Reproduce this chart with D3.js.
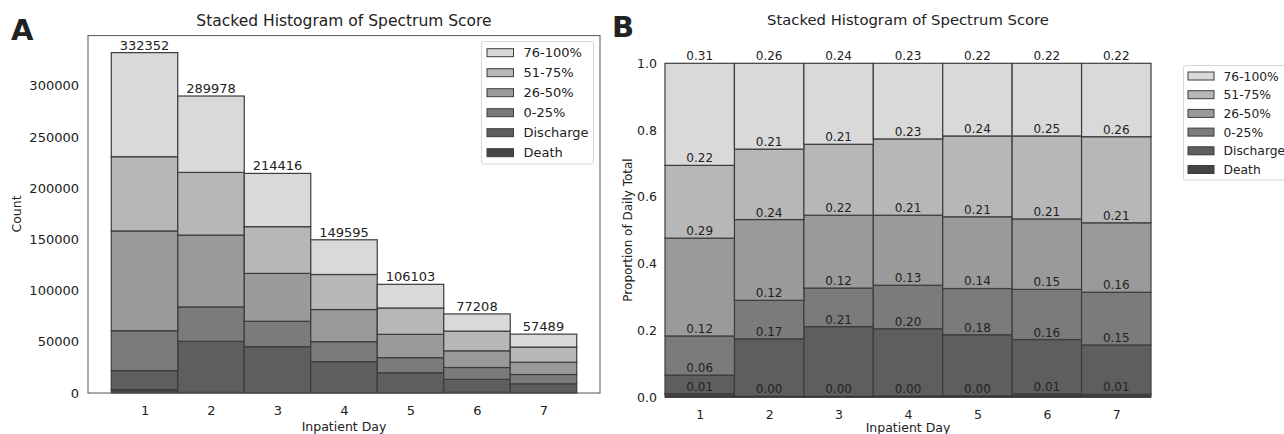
<!DOCTYPE html>
<html>
<head>
<meta charset="utf-8">
<script src="https://cdn.jsdelivr.net/npm/d3@7"></script>
<style>
  body { margin: 0; background: #fff; }
  text { font-family: "DejaVu Sans", sans-serif; fill: #222; }
</style>
</head>
<body>
<div id="chart"></div>
<script>
// stacked histogram of spectrum score, counts (A) and proportions (B)

var days = [1, 2, 3, 4, 5, 6, 7];
var groups = ["Death", "Discharge", "0-25%", "26-50%", "51-75%", "76-100%"]; // bottom -> top

// counts per day, one array per group
var death     = [3300, 600, 400, 400, 400, 700, 460];
var discharge = [18500, 49900, 44800, 30200, 19400, 12600, 8510];
var q0_25     = [39000, 33500, 24800, 19500, 14700, 11600, 9080];
var q26_50    = [97400, 70200, 46800, 31400, 22800, 16300, 11960];
var q51_75    = [72500, 61200, 45600, 34200, 25700, 19200, 14830];
var q76_100   = [101652, 74578, 52016, 33895, 23103, 16808, 12649];

var countTicks = [0, 50000, 100000, 150000, 200000, 250000, 300000];
var propTicks = [0, 0.2, 0.4, 0.6, 0.8, 1.0];

var colors = ["#454545", "#5e5e5e", "#7b7b7b", "#9a9a9a", "#b7b7b7", "#d9d9d9"];

var series = [death, discharge, q0_25, q26_50, q51_75, q76_100];
var rows = days.map(function(d, i) {
  var r = {day: d};
  groups.forEach(function(g, k) { r[g] = series[k][i]; });
  r.total = d3.sum(groups, function(g) { return r[g]; });
  return r;
});
var propRows = rows.map(function(r) {
  var p = {day: r.day};
  groups.forEach(function(g) { p[g] = r[g] / r.total; });
  return p;
});

var svg = d3.select("#chart").append("svg")
  .attr("width", 1284)
  .attr("height", 434);

var color = d3.scaleOrdinal().domain(groups).range(colors);
var stack = d3.stack().keys(groups);

// ---------- panel A ----------
var xA = d3.scaleLinear().domain([0.15, 7.85]).range([88, 600]);
var yA = d3.scaleLinear().domain([0, d3.max(rows, function(r) { return r.total; }) * 1.05]).range([393, 35.6]);
var bwA = xA(1) - xA(0);

var gA = svg.append("g");

gA.selectAll(".layer")
  .data(stack(rows))
  .enter().append("g")
    .attr("fill", function(d) { return color(d.key); })
  .selectAll("rect")
  .data(function(d) { return d; })
  .enter().append("rect")
    .attr("x", function(d) { return xA(d.data.day) - bwA / 2; })
    .attr("width", bwA)
    .attr("y", function(d) { return yA(d[1]); })
    .attr("height", function(d) { return yA(d[0]) - yA(d[1]); })
    .attr("stroke", "#3c3c3c")
    .attr("stroke-width", 1.2);

gA.selectAll(".total")
  .data(rows)
  .enter().append("text")
    .attr("x", function(d) { return xA(d.day); })
    .attr("y", function(d) { return yA(d.total) - 3; })
    .attr("text-anchor", "middle")
    .style("font-size", "13px")
    .text(function(d) { return d.total; });

// frame
gA.append("rect")
  .attr("x", 88).attr("y", 35.6)
  .attr("width", 512).attr("height", 393 - 35.6)
  .attr("fill", "none")
  .attr("stroke", "#555")
  .attr("stroke-width", 1);

var axA = gA.append("g")
  .attr("transform", "translate(0,393)")
  .call(d3.axisBottom(xA).tickValues(days).tickFormat(d3.format("d")).tickSize(0).tickPadding(13));
axA.select(".domain").remove();
axA.selectAll("text").style("font-size", "13px").attr("fill", "#222");

var ayA = gA.append("g")
  .attr("transform", "translate(88,0)")
  .call(d3.axisLeft(yA).tickValues(countTicks).tickFormat(d3.format("d")).tickSize(0).tickPadding(9));
ayA.select(".domain").remove();
ayA.selectAll("text").style("font-size", "13px").attr("fill", "#222");

gA.append("text")
  .attr("x", 344).attr("y", 26)
  .attr("text-anchor", "middle")
  .style("font-size", "15.5px")
  .text("Stacked Histogram of Spectrum Score");

gA.append("text")
  .attr("x", 344).attr("y", 431)
  .attr("text-anchor", "middle")
  .style("font-size", "12.5px")
  .text("Inpatient Day");

gA.append("text")
  .attr("transform", "translate(21,214) rotate(-90)")
  .attr("text-anchor", "middle")
  .style("font-size", "12.5px")
  .text("Count");

gA.append("text")
  .attr("x", 11).attr("y", 40)
  .style("font-size", "29px")
  .style("font-weight", "bold")
  .attr("fill", "#000")
  .text("A");

// legend A
var legA = gA.append("g");
legA.append("rect")
  .attr("x", 481.5).attr("y", 41.5)
  .attr("width", 112).attr("height", 122.5)
  .attr("rx", 2)
  .attr("fill", "#fff")
  .attr("stroke", "#d6d6d6");
var itemA = legA.selectAll(".item")
  .data(groups.slice().reverse())
  .enter().append("g")
    .attr("transform", function(d, i) { return "translate(0," + (52.7 + i * 20) + ")"; });
itemA.append("rect")
  .attr("x", 487).attr("y", -4)
  .attr("width", 26.5).attr("height", 8)
  .attr("fill", function(d) { return color(d); })
  .attr("stroke", "#3c3c3c")
  .attr("stroke-width", 1);
itemA.append("text")
  .attr("x", 523.5).attr("y", 4.7)
  .style("font-size", "13px")
  .text(function(d) { return d; });

// ---------- panel B ----------
var xB = d3.scaleLinear().domain([0.5, 7.5]).range([665, 1151]);
var yB = d3.scaleLinear().domain([0, 1]).range([397, 63.3]);
var bwB = xB(1) - xB(0);
var fmt = d3.format(".2f");

var gB = svg.append("g");

var layersB = gB.selectAll(".layer")
  .data(stack(propRows))
  .enter().append("g")
    .attr("fill", function(d) { return color(d.key); });

layersB.selectAll("rect")
  .data(function(d) { return d; })
  .enter().append("rect")
    .attr("x", function(d) { return xB(d.data.day) - bwB / 2; })
    .attr("width", bwB)
    .attr("y", function(d) { return yB(d[1]); })
    .attr("height", function(d) { return yB(d[0]) - yB(d[1]); })
    .attr("stroke", "#3c3c3c")
    .attr("stroke-width", 1.2);

// labels sit on top edge of each segment
gB.selectAll(".seglabels")
  .data(stack(propRows))
  .enter().append("g")
  .selectAll("text")
  .data(function(d) { return d; })
  .enter().append("text")
    .attr("x", function(d) { return xB(d.data.day); })
    .attr("y", function(d) { return yB(d[1]) - 3; })
    .attr("text-anchor", "middle")
    .style("font-size", "12px")
    .text(function(d) { return fmt(d[1] - d[0]); });

gB.append("line")
  .attr("x1", 665).attr("x2", 1151)
  .attr("y1", 397).attr("y2", 397)
  .attr("stroke", "#333")
  .attr("stroke-width", 1.5);

var axB = gB.append("g")
  .attr("transform", "translate(0,397)")
  .call(d3.axisBottom(xB).tickValues(days).tickFormat(d3.format("d")).tickSize(0).tickPadding(13));
axB.select(".domain").remove();
axB.selectAll("text").style("font-size", "12.5px").attr("fill", "#222");

var ayB = gB.append("g")
  .attr("transform", "translate(665,0)")
  .call(d3.axisLeft(yB).tickValues(propTicks).tickFormat(d3.format(".1f")).tickSize(0).tickPadding(8));
ayB.select(".domain").remove();
ayB.selectAll("text").style("font-size", "12.5px").attr("fill", "#222");

gB.append("text")
  .attr("x", 908).attr("y", 25)
  .attr("text-anchor", "middle")
  .style("font-size", "14.8px")
  .text("Stacked Histogram of Spectrum Score");

gB.append("text")
  .attr("x", 908).attr("y", 432)
  .attr("text-anchor", "middle")
  .style("font-size", "12.5px")
  .text("Inpatient Day");

gB.append("text")
  .attr("transform", "translate(632,230) rotate(-90)")
  .attr("text-anchor", "middle")
  .style("font-size", "12px")
  .text("Proportion of Daily Total");

gB.append("text")
  .attr("x", 612).attr("y", 37)
  .style("font-size", "29px")
  .style("font-weight", "bold")
  .attr("fill", "#000")
  .text("B");

// legend B (runs off the right edge like the original)
var legB = gB.append("g");
legB.append("rect")
  .attr("x", 1183.5).attr("y", 65.5)
  .attr("width", 110).attr("height", 114.5)
  .attr("rx", 2)
  .attr("fill", "#fff")
  .attr("stroke", "#d6d6d6");
var itemB = legB.selectAll(".item")
  .data(groups.slice().reverse())
  .enter().append("g")
    .attr("transform", function(d, i) { return "translate(0," + (76 + i * 18.7) + ")"; });
itemB.append("rect")
  .attr("x", 1188).attr("y", -4)
  .attr("width", 26).attr("height", 8)
  .attr("fill", function(d) { return color(d); })
  .attr("stroke", "#3c3c3c")
  .attr("stroke-width", 1);
itemB.append("text")
  .attr("x", 1223.5).attr("y", 4.5)
  .style("font-size", "12.3px")
  .text(function(d) { return d; });
</script>
</body>
</html>
